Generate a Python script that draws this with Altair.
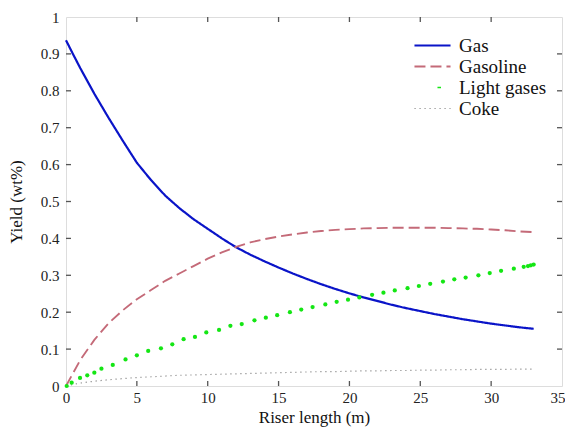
import altair as alt
import pandas as pd

# ---- data ----
x_line = [0, 0.5, 1, 2, 3, 4, 5, 6, 7, 8, 9, 10, 11, 12, 13, 14, 15, 16, 17,
          18, 19, 20, 21, 22, 23, 24, 25, 26, 27, 28, 29, 30, 31, 32, 33]
gas = [0.937, 0.899, 0.862, 0.792, 0.727, 0.665, 0.605, 0.558, 0.516, 0.482,
       0.452, 0.426, 0.400, 0.376, 0.356, 0.338, 0.321, 0.305, 0.290, 0.276,
       0.263, 0.251, 0.240, 0.230, 0.220, 0.211, 0.203, 0.195, 0.188, 0.181,
       0.175, 0.169, 0.164, 0.159, 0.155]
gasoline = [0.0, 0.035, 0.07, 0.125, 0.17, 0.205, 0.235, 0.26, 0.285, 0.305,
            0.325, 0.345, 0.362, 0.377, 0.389, 0.398, 0.405, 0.411, 0.416,
            0.420, 0.423, 0.425, 0.427, 0.428, 0.429, 0.429, 0.429, 0.429,
            0.428, 0.427, 0.426, 0.424, 0.422, 0.419, 0.417]
coke = [0.0, 0.004, 0.008, 0.013, 0.017, 0.020, 0.023, 0.025, 0.027, 0.029,
        0.030, 0.031, 0.032, 0.033, 0.034, 0.035, 0.036, 0.037, 0.038, 0.039,
        0.039, 0.040, 0.041, 0.041, 0.042, 0.042, 0.043, 0.043, 0.044, 0.044,
        0.045, 0.045, 0.045, 0.046, 0.046]

x_light = [0.05, 0.4, 0.99, 1.5, 2.0, 2.5, 3.3, 4.2, 5.0, 5.8, 6.7, 7.5, 8.3,
           9.1, 9.9, 10.8, 11.6, 12.4, 13.3, 14.1, 14.9, 15.8, 16.6, 17.4,
           18.3, 19.1, 19.9, 20.7, 21.6, 22.4, 23.2, 24.1, 24.9, 25.7, 26.6,
           27.4, 28.2, 29.1, 29.9, 30.7, 31.6, 32.3, 32.6, 32.8, 33.0]
light_gases = [0.0, 0.009, 0.022, 0.029, 0.036, 0.047, 0.057, 0.072, 0.083,
               0.095, 0.102, 0.113, 0.127, 0.133, 0.145, 0.152, 0.163, 0.168,
               0.178, 0.185, 0.192, 0.200, 0.207, 0.214, 0.221, 0.228, 0.234,
               0.240, 0.247, 0.253, 0.259, 0.265, 0.271, 0.277, 0.283, 0.289,
               0.294, 0.300, 0.306, 0.312, 0.318, 0.323, 0.325, 0.327, 0.329]

series = ["Gas", "Gasoline", "Light gases", "Coke"]
colors = ["#0a14c8", "#c46a78", "#14e614", "#8c8c8c"]
dashes = [[1, 0], [11, 5], [0.001, 23, 3.5, 100], [1.2, 3.8]]
widths = [2.2, 1.2, 4, 1.2]

x_values = [0, 5, 10, 15, 20, 25, 30, 35]
y_values = [0, 0.1, 0.2, 0.3, 0.4, 0.5, 0.6, 0.7, 0.8, 0.9, 1]
x_ticks = [5, 10, 15, 20, 25, 30]
y_ticks = [0.1, 0.2, 0.3, 0.4, 0.5, 0.6, 0.7, 0.8, 0.9]

W, H = 496, 369
FONT = "Liberation Serif"

rows = []
for name, vals in [("Gas", gas), ("Gasoline", gasoline), ("Coke", coke)]:
    for i, (xv, yv) in enumerate(zip(x_line, vals)):
        rows.append({"x": xv, "y": yv, "series": name, "order": i})
lines_df = pd.DataFrame(rows)
light_df = pd.DataFrame({"x": x_light, "y": light_gases})
xt_df = pd.DataFrame({"x": x_ticks})
yt_df = pd.DataFrame({"y": y_ticks})

xs = alt.Scale(domain=[0, 35], nice=False, zero=False)
ys = alt.Scale(domain=[0, 1], nice=False, zero=False)

x_axis = alt.Axis(values=x_values, format="d", grid=False,
                  domain=False, ticks=False, labelPadding=4, labelFont=FONT,
                  labelFontSize=15, labelColor="#222", labelFlush=False,
                  labelOverlap=False,
                  labelAlign={"condition": {"test": "datum.value == 35", "value": "right"},
                              "value": "center"},
                  labelOffset={"condition": {"test": "datum.value == 35", "value": 3},
                               "value": 0},
                  title="Riser length (m)",
                  titleFont=FONT, titleFontSize=17, titleFontWeight="normal",
                  titleColor="#111", titlePadding=4)
y_axis = alt.Axis(values=y_values,
                  labelExpr="datum.value == 0 ? '0' : datum.value == 1 ? '1' : format(datum.value, '.1f')",
                  grid=False, domain=False, ticks=False, labelPadding=7,
                  labelFont=FONT, labelFontSize=15, labelColor="#222",
                  labelFlush=False, labelOverlap=False,
                  title="Yield (wt%)", titleFont=FONT, titleFontSize=17,
                  titleFontWeight="normal", titleColor="#111", titlePadding=15)

X = alt.X("x:Q", scale=xs, axis=x_axis)
Y = alt.Y("y:Q", scale=ys, axis=y_axis)

legend = alt.Legend(title=None, orient="none", legendX=347, legendY=19,
                    symbolType="stroke", symbolSize=1300, clipHeight=19,
                    labelFont=FONT, labelFontSize=19, labelColor="#111",
                    rowPadding=1.0, labelOffset=7, symbolStrokeWidth=1.5)

lines = alt.Chart(lines_df).mark_line(strokeCap="butt").encode(
    x=X, y=Y,
    color=alt.Color("series:N", scale=alt.Scale(domain=series, range=colors), legend=legend),
    strokeDash=alt.StrokeDash("series:N", scale=alt.Scale(domain=series, range=dashes), legend=legend),
    strokeWidth=alt.StrokeWidth("series:N", scale=alt.Scale(domain=series, range=widths), legend=legend),
    detail="series:N",
    order="order:Q",
)

points = alt.Chart(light_df).mark_circle(size=18, opacity=1, color=colors[2]).encode(
    x=X, y=Y,
)

tick_color = "#555"
bottom_ticks = alt.Chart(xt_df).mark_rule(color=tick_color, strokeWidth=1.3).encode(
    x=X, y=alt.value(H), y2=alt.value(H - 5))
top_ticks = alt.Chart(xt_df).mark_rule(color=tick_color, strokeWidth=1.3).encode(
    x=X, y=alt.value(0), y2=alt.value(5))
left_ticks = alt.Chart(yt_df).mark_rule(color=tick_color, strokeWidth=1.3).encode(
    y=Y, x=alt.value(0), x2=alt.value(5))
right_ticks = alt.Chart(yt_df).mark_rule(color=tick_color, strokeWidth=1.3).encode(
    y=Y, x=alt.value(W), x2=alt.value(W - 5))

chart = alt.layer(lines, points, bottom_ticks, top_ticks, left_ticks, right_ticks).properties(
    width=W, height=H,
    autosize=alt.AutoSizeParams(type="none"),
    padding={"left": 58, "top": 9, "right": 3, "bottom": 42},
).configure_view(stroke="#5a5a5a", strokeWidth=1.5).configure(background="white")

chart.save("out.html", embed_options={"renderer": "svg", "actions": False})
